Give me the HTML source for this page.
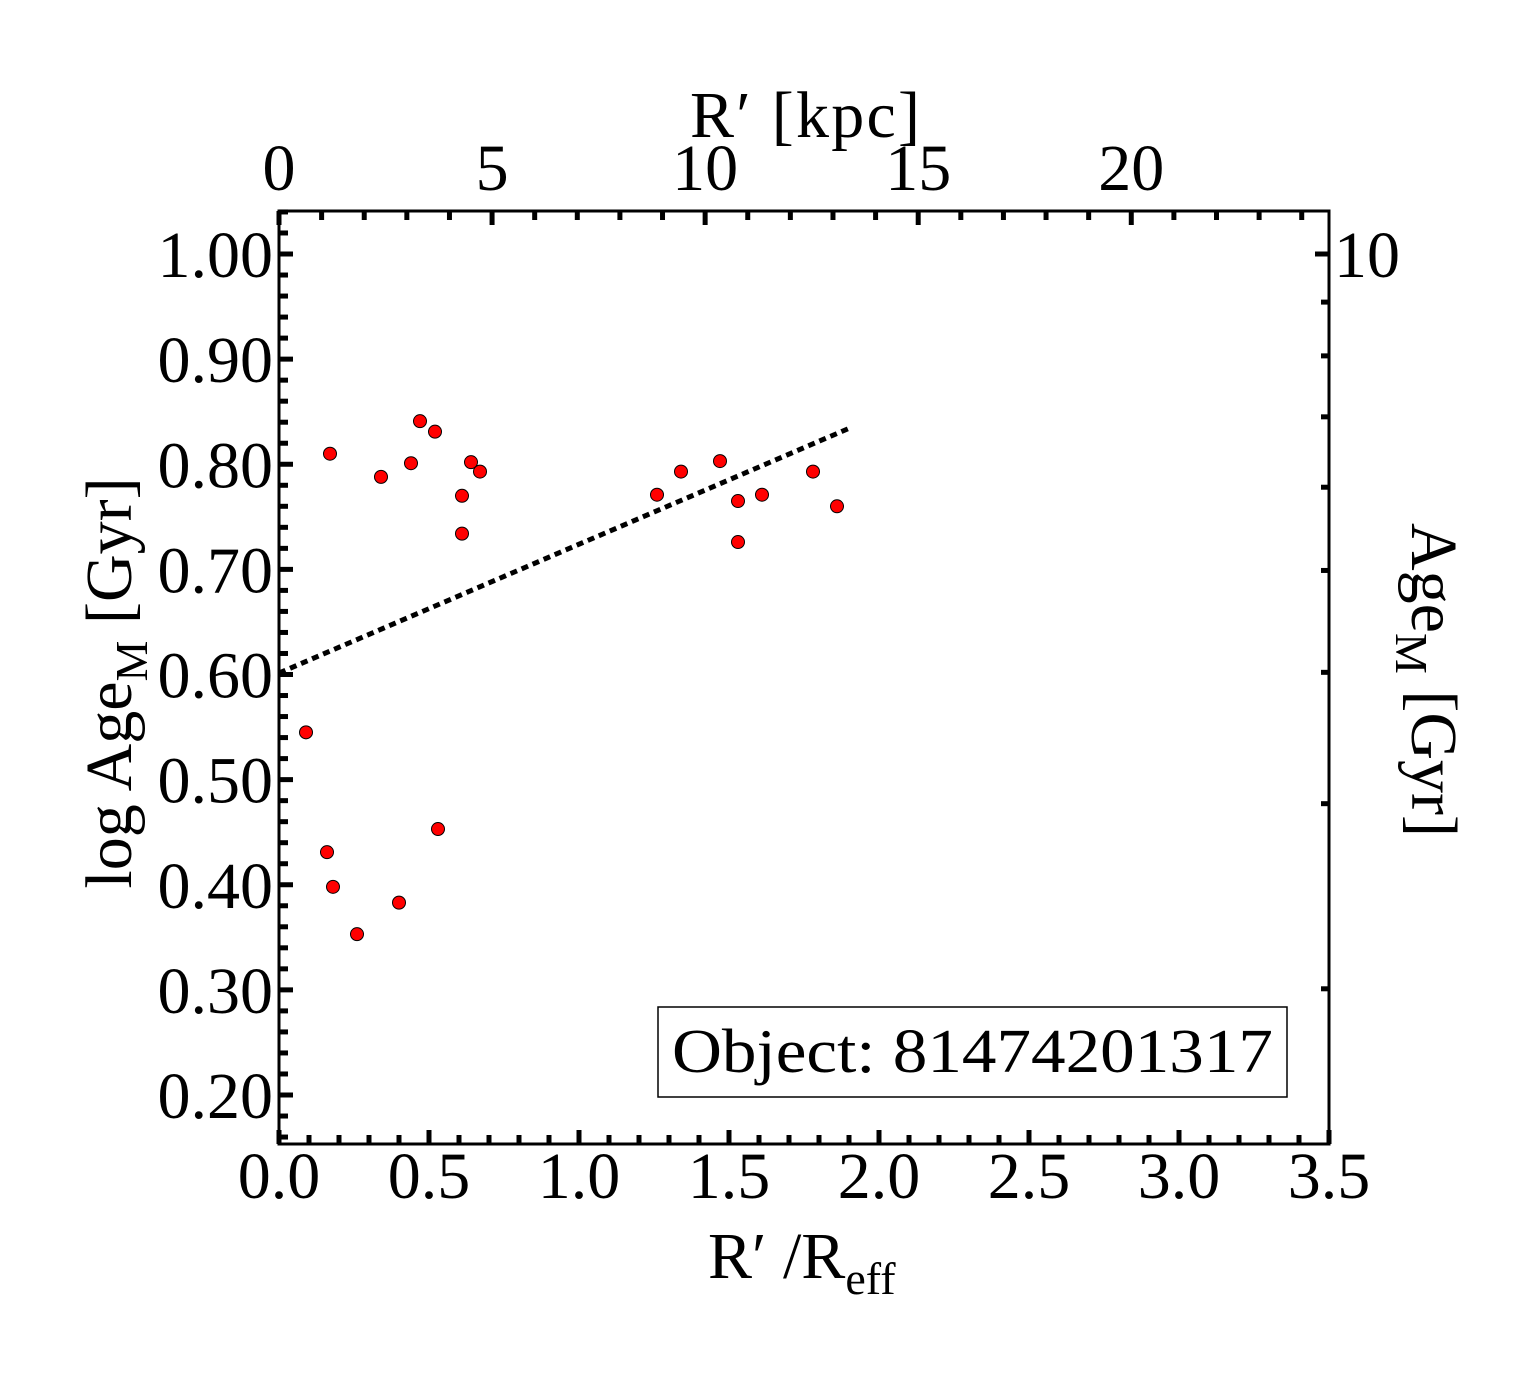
<!DOCTYPE html>
<html><head><meta charset="utf-8"><style>
html,body{margin:0;padding:0;background:#fff;}
svg{display:block;font-family:"Liberation Serif",serif;}
</style></head><body>
<svg id="chart" width="1540" height="1375" viewBox="0 0 1540 1375" xmlns="http://www.w3.org/2000/svg">
<g id="frame"></g>
<g id="ticks"></g>
<g id="labels" font-size="66"></g>
<g id="fit"></g>
<g id="points"></g>
<text x="708" y="1278" font-size="66">R′ /R<tspan font-size="46" dy="16">eff</tspan></text>
<text x="690" y="137" font-size="66" textLength="230" lengthAdjust="spacing">R′  [kpc]</text>
<text transform="translate(131,683) rotate(-90)" text-anchor="middle" font-size="66">log Age<tspan font-size="46" dy="16">M</tspan><tspan dy="-16"> [Gyr]</tspan></text>
<text transform="translate(1412,680) rotate(90)" text-anchor="middle" font-size="66">Age<tspan font-size="46" dy="16">M</tspan><tspan dy="-16"> [Gyr]</tspan></text>
<g>
<rect x="658" y="1007" width="629" height="90" fill="#fff" stroke="#000" stroke-width="1.5"/>
<text x="672" y="1072" font-size="62" textLength="601" lengthAdjust="spacingAndGlyphs">Object: 81474201317</text>
</g>
</svg>
<script>
const xData=[0.09,0.17,0.16,0.18,0.26,0.34,0.40,0.44,0.47,0.52,0.53,0.61,0.61,0.64,0.67,1.26,1.34,1.47,1.53,1.53,1.61,1.78,1.86];
const yData=[0.545,0.810,0.431,0.398,0.353,0.788,0.383,0.801,0.841,0.831,0.453,0.770,0.734,0.802,0.793,0.771,0.793,0.803,0.765,0.726,0.771,0.793,0.760];
const fitX=[0.0,1.903];
const fitY=[0.6014,0.8345];
const xTickLabels=["0.0","0.5","1.0","1.5","2.0","2.5","3.0","3.5"];
const yTickLabels=["0.20","0.30","0.40","0.50","0.60","0.70","0.80","0.90","1.00"];
const kpcTickLabels=["0","5","10","15","20"];
const ageTickLabels=["10"];
const ageMinor=[2,3,4,5,6,7,8,9];
const kpcPerReff=7.04;

const L=279,R=1329,T=211,B=1144;
const xs=v=>L+v*300;
const ys=v=>254+(1-v)*1051.25;
const ks=k=>xs(k/kpcPerReff);
const NS="http://www.w3.org/2000/svg";
function mk(tag,parent,attrs){const e=document.createElementNS(NS,tag);for(const k in attrs)e.setAttribute(k,attrs[k]);parent.appendChild(e);return e;}
const frame=document.getElementById('frame'),ticks=document.getElementById('ticks'),labels=document.getElementById('labels');
const fr=mk('rect',frame,{x:L,y:T,width:R-L,height:B-T,fill:'none',stroke:'#000','stroke-width':3});


function line(x1,y1,x2,y2,w){return mk('line',ticks,{x1,y1,x2,y2,stroke:'#000','stroke-width':w});}
for(let i=0;i<=35;i++){const v=i/10,x=xs(v),maj=i%5===0;line(x,B,x,B-(maj?14:9),5);}
xTickLabels.forEach(s=>{const t=mk('text',labels,{x:xs(parseFloat(s)),y:1198,'text-anchor':'middle'});t.textContent=s;

});
for(let i=8;i<=52;i++){const v=i/50,y=ys(v);if(y<T||y>B)continue;const maj=i%5===0;line(L,y,L+(maj?14:9),y,5);}
yTickLabels.forEach(s=>{const t=mk('text',labels,{x:273,y:ys(parseFloat(s))+23,'text-anchor':'end'});t.textContent=s;

});
for(let k=0;k<=24;k++){const x=ks(k);if(x>R)break;const maj=k%5===0;line(x,T,x,T+(maj?14:9),5);}
kpcTickLabels.forEach(s=>{const t=mk('text',labels,{x:ks(parseFloat(s)),y:190,'text-anchor':'middle'});t.textContent=s;

});
line(R,ys(1),R-14,ys(1),5);
ageMinor.forEach(a=>{const y=ys(Math.log10(a));line(R,y,R-8,y,5);});
ageTickLabels.forEach(s=>{const t=mk('text',labels,{x:1334,y:ys(Math.log10(parseFloat(s)))+23});t.textContent=s;

});
const fl=mk('line',document.getElementById('fit'),{x1:xs(fitX[0]),y1:ys(fitY[0]),x2:xs(fitX[1]),y2:ys(fitY[1]),stroke:'#000','stroke-width':5,'stroke-dasharray':'7 5'});


const pg=document.getElementById('points');
xData.forEach((x,i)=>{const c=mk('circle',pg,{cx:xs(x),cy:ys(yData[i]),r:6.5,fill:'#ff0000',stroke:'#000','stroke-width':1});

});
</script>
</body></html>
